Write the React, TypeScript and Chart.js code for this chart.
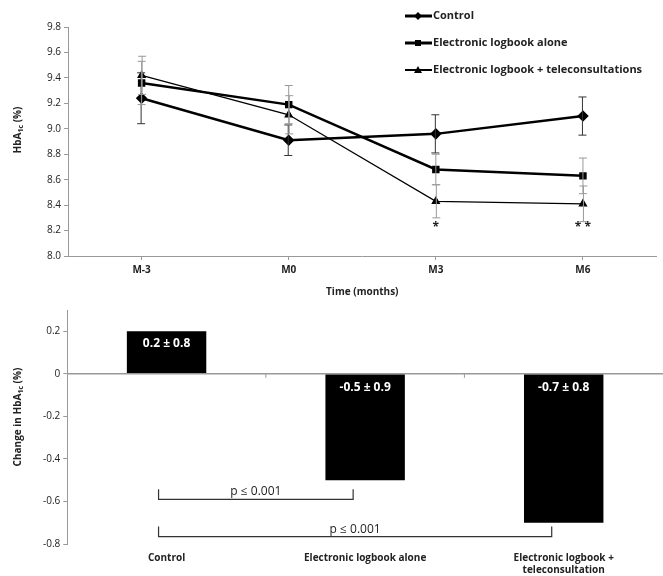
import React, { useEffect, useRef } from "react";
import { Chart, registerables } from "chart.js";
Chart.register(...registerables);

const timepoints = ["M-3", "M0", "M3", "M6"];
const seriesNames = ["Control", "Electronic logbook alone", "Electronic logbook + teleconsultations"];
const controlMean = [9.24, 8.91, 8.96, 9.1];
const controlErr = [0.2, 0.12, 0.15, 0.15];
const aloneMean = [9.36, 9.19, 8.68, 8.63];
const aloneErr = [0.17, 0.15, 0.12, 0.14];
const teleMean = [9.42, 9.11, 8.43, 8.41];
const teleErr = [0.15, 0.15, 0.13, 0.14];
const sigMarks = ["", "", "*", "* *"];

const groups = [["Control"], ["Electronic logbook alone"], ["Electronic logbook +", "teleconsultation"]];
const changes = [0.2, -0.5, -0.7];
const changeLabels = ["0.2 ± 0.8", "-0.5 ± 0.9", "-0.7 ± 0.8"];

const FONT = "'Open Sans', 'Liberation Sans', sans-serif";
const TXT = "#222";

function drawSubTitle(ctx: CanvasRenderingContext2D, x: number, y: number, pre: string, post: string) {
  ctx.save();
  ctx.translate(x, y);
  ctx.rotate(-Math.PI / 2);
  ctx.fillStyle = TXT;
  ctx.textBaseline = "middle";
  const f1 = `bold 10px ${FONT}`, f2 = `bold 7px ${FONT}`;
  ctx.font = f1; const w1 = ctx.measureText("HbA").width;
  ctx.font = f2; const w2 = ctx.measureText("1c").width;
  ctx.font = f1; const w0 = ctx.measureText(pre).width; const w3 = ctx.measureText(post).width;
  let cx = -(w0 + w1 + w2 + w3) / 2;
  ctx.textAlign = "left";
  ctx.fillText(pre + "HbA", cx, 0); cx += w0 + w1;
  ctx.font = f2; ctx.fillText("1c", cx, 3); cx += w2;
  ctx.font = f1; ctx.fillText(post, cx, 0);
  ctx.restore();
}

export default function App() {
  const topRef = useRef<HTMLCanvasElement>(null);
  const botRef = useRef<HTMLCanvasElement>(null);

  useEffect(() => {
    const errs = [controlErr, aloneErr, teleErr];
    const means = [controlMean, aloneMean, teleMean];
    const errColors = ["#333", "#999", "#999"];
    const topPlugin = {
      id: "topExtras",
      afterDatasetsDraw(chart: any) {
        const ctx = chart.ctx; const x = chart.scales.x; const y = chart.scales.y;
        ctx.save();
        means.forEach((m, s) => {
          ctx.strokeStyle = errColors[s]; ctx.lineWidth = 1;
          m.forEach((v, i) => {
            const px = x.getPixelForValue(i) + (s - 1) * 0.5;
            const t = y.getPixelForValue(v + errs[s][i]), b = y.getPixelForValue(v - errs[s][i]);
            ctx.beginPath();
            ctx.moveTo(px, t); ctx.lineTo(px, b);
            ctx.moveTo(px - 4, t); ctx.lineTo(px + 4, t);
            ctx.moveTo(px - 4, b); ctx.lineTo(px + 4, b);
            ctx.stroke();
          });
        });
        ctx.fillStyle = TXT; ctx.font = `bold 12px ${FONT}`; ctx.textAlign = "center"; ctx.textBaseline = "middle";
        sigMarks.forEach((s, i) => { if (s) ctx.fillText(s, x.getPixelForValue(i), y.getPixelForValue(8.22)); });
        const widths = [3, 3, 2];
        ctx.font = `bold 11px ${FONT}`; ctx.textAlign = "left";
        seriesNames.forEach((n, k) => {
          const ly = 16 + k * 27;
          ctx.strokeStyle = "#000"; ctx.lineWidth = widths[k];
          ctx.beginPath(); ctx.moveTo(405, ly); ctx.lineTo(432, ly); ctx.stroke();
          ctx.fillStyle = "#000";
          ctx.beginPath();
          if (k === 0) { ctx.moveTo(418, ly - 4); ctx.lineTo(422, ly); ctx.lineTo(418, ly + 4); ctx.lineTo(414, ly); }
          else if (k === 1) { ctx.rect(415, ly - 3, 6, 6); }
          else { ctx.moveTo(418, ly - 4); ctx.lineTo(422, ly + 3); ctx.lineTo(414, ly + 3); }
          ctx.fill();
          ctx.fillStyle = TXT; ctx.fillText(n, 433, ly);
        });
        drawSubTitle(ctx, 18, 130, "", " (%)");
        ctx.restore();
      },
    };
    const top = new Chart(topRef.current!, {
      type: "line",
      data: {
        labels: timepoints,
        datasets: [
          { data: controlMean, borderColor: "#000", backgroundColor: "#000", borderWidth: 2.5, pointStyle: "rectRot", pointRadius: 4 },
          { data: aloneMean, borderColor: "#000", backgroundColor: "#000", borderWidth: 2.5, pointStyle: "rect", pointRadius: 3.5 },
          { data: teleMean, borderColor: "#000", backgroundColor: "#000", borderWidth: 1.3, pointStyle: "triangle", pointRadius: 4 },
        ],
      },
      options: {
        animation: false, responsive: false,
        layout: { padding: { top: 27, right: 0, left: 44, bottom: 2 } },
        plugins: { legend: { display: false }, tooltip: { enabled: false } },
        scales: {
          x: {
            offset: true,
            grid: { drawOnChartArea: false, tickLength: 4, color: "#999" },
            border: { color: "#999" },
            ticks: { color: TXT, font: { family: FONT, size: 10, weight: "bold" }, padding: 4 },
            title: { display: true, text: "Time (months)", color: TXT, font: { family: FONT, size: 10, weight: "bold" }, padding: { top: 6, bottom: 0 } },
          },
          y: {
            min: 8.0, max: 9.8,
            grid: { drawOnChartArea: false, tickLength: 4, color: "#999" },
            border: { color: "#999" },
            ticks: { stepSize: 0.2, color: TXT, font: { family: FONT, size: 10 }, callback: (v: any) => Number(v).toFixed(1) },
          },
        },
      },
      plugins: [topPlugin],
    } as any);

    const botPlugin = {
      id: "botExtras",
      afterDatasetsDraw(chart: any) {
        const ctx = chart.ctx; const x = chart.scales.x; const y = chart.scales.y;
        ctx.save();
        const y0 = y.getPixelForValue(0);
        ctx.strokeStyle = "#999"; ctx.lineWidth = 1.5;
        ctx.beginPath(); ctx.moveTo(chart.chartArea.left, y0); ctx.lineTo(chart.chartArea.right, y0); ctx.stroke();
        ctx.lineWidth = 1;
        for (let i = 0; i < changes.length - 1; i++) {
          const bx = (x.getPixelForValue(i) + x.getPixelForValue(i + 1)) / 2;
          ctx.beginPath(); ctx.moveTo(bx, y0); ctx.lineTo(bx, y0 + 4); ctx.stroke();
        }
        ctx.fillStyle = "#fff"; ctx.font = `bold 12px ${FONT}`; ctx.textAlign = "center"; ctx.textBaseline = "middle";
        changes.forEach((v, i) => {
          ctx.fillText(changeLabels[i], x.getPixelForValue(i), v > 0 ? y.getPixelForValue(v) + 12 : y0 + 14);
        });
        const brackets = [[1, -0.59, -0.555], [2, -0.765, -0.73]];
        ctx.strokeStyle = "#333"; ctx.lineWidth = 1.2; ctx.fillStyle = TXT; ctx.font = `12px ${FONT}`;
        brackets.forEach(([to, yl, yt]) => {
          const l = x.getPixelForValue(0) - 8, r = x.getPixelForValue(to) - 12;
          const py = y.getPixelForValue(yl), pt = py - 10;
          ctx.beginPath(); ctx.moveTo(l, pt); ctx.lineTo(l, py); ctx.lineTo(r, py); ctx.lineTo(r, pt); ctx.stroke();
          ctx.fillText("p ≤ 0.001", (l + r) / 2, y.getPixelForValue(yt));
        });
        drawSubTitle(ctx, 18, 117, "Change in ", " (%)");
        ctx.restore();
      },
    };
    const bot = new Chart(botRef.current!, {
      type: "bar",
      data: { labels: groups, datasets: [{ data: changes, backgroundColor: "#000", categoryPercentage: 1, barPercentage: 0.4 }] },
      options: {
        animation: false, responsive: false,
        layout: { padding: { top: 10, right: 0, left: 40, bottom: 0 } },
        plugins: { legend: { display: false }, tooltip: { enabled: false } },
        scales: {
          x: {
            grid: { display: false }, border: { display: false },
            ticks: { color: TXT, font: { family: FONT, size: 10, weight: "bold" }, padding: 0 },
          },
          y: {
            min: -0.8, max: 0.3,
            grid: { drawOnChartArea: false, tickLength: 4, color: "#999" },
            border: { color: "#999" },
            ticks: { stepSize: 0.2, includeBounds: false, color: TXT, font: { family: FONT, size: 10 } },
          },
        },
      },
      plugins: [botPlugin],
    } as any);
    return () => { top.destroy(); bot.destroy(); };
  }, []);

  return (
    <div style={{ position: "absolute", left: 0, top: 0, width: 663, height: 576, background: "#fff" }}>
      <canvas ref={topRef} width={663} height={300} style={{ display: "block" }} />
      <canvas ref={botRef} width={663} height={276} style={{ display: "block" }} />
    </div>
  );
}
